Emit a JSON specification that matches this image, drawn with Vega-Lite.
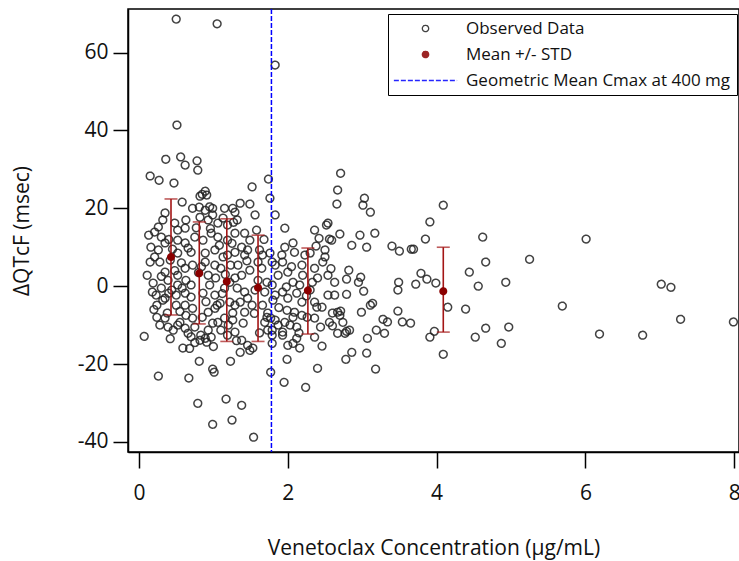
{
  "$schema": "https://vega.github.io/schema/vega-lite/v6.json",
  "autosize": "none",
  "width": 611,
  "height": 443,
  "padding": {"left": 128, "top": 9, "right": 0, "bottom": 109},
  "background": "white",
  "datasets": {
    "obs": [
      {"c":0.50,"q":68.6},{"c":1.05,"q":67.4},{"c":1.83,"q":56.8},{"c":0.51,"q":41.4},{"c":0.15,"q":28.3},{"c":0.27,"q":27.2},{"c":0.36,"q":32.6},{"c":0.47,"q":26.5},{"c":0.56,"q":33.2},{"c":0.62,"q":31.1},
      {"c":0.78,"q":32.2},{"c":0.79,"q":29.8},{"c":0.85,"q":23.6},{"c":0.89,"q":24.4},{"c":0.91,"q":23.4},{"c":0.82,"q":23.1},{"c":0.58,"q":21.6},{"c":0.72,"q":20.0},{"c":0.81,"q":20.3},{"c":0.99,"q":20.0},
      {"c":1.15,"q":20.0},{"c":1.26,"q":20.0},{"c":1.36,"q":21.3},{"c":1.49,"q":21.1},{"c":1.52,"q":25.5},{"c":1.56,"q":18.3},{"c":1.74,"q":27.5},{"c":1.76,"q":22.6},{"c":1.83,"q":18.3},{"c":1.96,"q":14.9},
      {"c":2.71,"q":29.0},{"c":2.67,"q":24.7},{"c":2.66,"q":21.1},{"c":2.70,"q":13.4},{"c":2.54,"q":16.2},{"c":2.56,"q":12.1},{"c":2.36,"q":14.4},{"c":2.42,"q":12.3},{"c":3.03,"q":22.6},{"c":3.01,"q":20.8},
      {"c":3.11,"q":19.0},{"c":2.86,"q":10.5},{"c":2.97,"q":13.1},{"c":3.06,"q":10.0},{"c":3.17,"q":13.6},{"c":3.40,"q":10.3},{"c":3.50,"q":9.0},{"c":3.66,"q":9.5},{"c":3.69,"q":9.5},{"c":3.85,"q":12.1},
      {"c":3.91,"q":16.5},{"c":4.09,"q":20.8},{"c":4.62,"q":12.6},{"c":4.66,"q":6.2},{"c":5.25,"q":6.9},{"c":4.44,"q":3.6},{"c":3.79,"q":3.3},{"c":3.87,"q":1.8},{"c":3.99,"q":0.8},{"c":3.72,"q":0.5},
      {"c":3.49,"q":1.0},{"c":3.48,"q":-1.0},{"c":2.82,"q":4.1},{"c":2.79,"q":1.8},{"c":2.98,"q":2.3},{"c":2.95,"q":1.0},{"c":3.02,"q":-1.3},{"c":2.79,"q":-2.1},{"c":4.56,"q":0.0},{"c":4.93,"q":1.0},
      {"c":4.15,"q":-5.4},{"c":4.39,"q":-5.9},{"c":3.14,"q":-4.4},{"c":3.11,"q":-4.9},{"c":2.99,"q":-6.7},{"c":2.71,"q":-6.4},{"c":3.48,"q":-6.4},{"c":3.28,"q":-8.5},{"c":3.34,"q":-9.2},{"c":3.30,"q":-12.1},
      {"c":3.19,"q":-11.3},{"c":3.54,"q":-9.2},{"c":3.65,"q":-9.5},{"c":2.77,"q":-12.1},{"c":2.79,"q":-11.6},{"c":3.07,"q":-13.4},{"c":3.91,"q":-13.1},{"c":3.97,"q":-11.6},{"c":4.09,"q":-17.5},{"c":2.86,"q":-17.0},
      {"c":2.78,"q":-18.8},{"c":3.06,"q":-17.2},{"c":3.18,"q":-21.3},{"c":4.52,"q":-13.1},{"c":4.66,"q":-10.8},{"c":4.87,"q":-14.7},{"c":4.97,"q":-10.5},{"c":6.01,"q":12.1},{"c":5.69,"q":-5.1},{"c":6.19,"q":-12.3},
      {"c":6.77,"q":-12.6},{"c":7.02,"q":0.5},{"c":7.15,"q":-0.3},{"c":7.28,"q":-8.5},{"c":7.99,"q":-9.2},{"c":2.60,"q":-6.9},{"c":2.67,"q":-6.7},
      {"c":0.07,"q":-12.9},{"c":0.26,"q":-23.1},{"c":0.59,"q":-15.9},{"c":0.81,"q":-19.3},{"c":0.67,"q":-23.6},{"c":0.99,"q":-21.3},{"c":1.01,"q":-22.1},{"c":0.79,"q":-30.1},{"c":1.17,"q":-29.0},{"c":1.38,"q":-30.6},
      {"c":0.99,"q":-35.5},{"c":1.25,"q":-34.4},{"c":1.54,"q":-38.8},{"c":1.77,"q":-22.1},{"c":1.95,"q":-24.7},{"c":2.24,"q":-26.0},{"c":2.40,"q":-21.1},{"c":1.99,"q":-18.8},{"c":2.07,"q":-14.7},{"c":2.16,"q":-15.9},
      {"c":2.46,"q":-15.4},{"c":2.36,"q":-13.1},{"c":1.23,"q":-19.3},{"c":1.38,"q":-13.9},{"c":1.46,"q":-15.2},{"c":1.49,"q":-16.5},{"c":1.36,"q":-17.0},{"c":1.79,"q":-12.6},{"c":1.79,"q":-14.7},{"c":2.12,"q":-13.4},
      {"c":2.00,"q":-15.2},{"c":2.67,"q":-12.1},{"c":2.36,"q":-8.2},{"c":1.66,"q":-4.9},{"c":1.73,"q":-6.9},{"c":1.69,"q":-9.3},{"c":1.73,"q":-11.3},{"c":1.87,"q":-10.0},{"c":1.93,"q":-11.8},{"c":1.96,"q":-9.3},
      {"c":2.03,"q":-10.0},{"c":2.09,"q":-6.7},{"c":2.19,"q":-7.5},{"c":2.56,"q":-9.3},{"c":2.60,"q":-10.2},
      {"c":1.29,"q":19.0},{"c":1.32,"q":17.0},{"c":2.52,"q":15.7},{"c":2.59,"q":11.8},{"c":2.38,"q":10.3},{"c":2.50,"q":9.3},{"c":2.07,"q":11.1},{"c":1.96,"q":10.0},{"c":1.92,"q":8.0},{"c":2.09,"q":8.7},
      {"c":2.23,"q":8.0},{"c":1.38,"q":10.0},{"c":1.46,"q":9.3},{"c":1.42,"q":8.0},{"c":1.62,"q":9.3},{"c":1.66,"q":8.0},{"c":1.76,"q":8.5},
      {"c":0.35,"q":18.8},{"c":0.32,"q":17.0},{"c":0.26,"q":15.2},{"c":0.21,"q":13.9},{"c":0.13,"q":13.1},{"c":0.30,"q":12.6},{"c":0.48,"q":16.2},{"c":0.52,"q":14.4},{"c":0.62,"q":14.9},{"c":0.63,"q":17.0},
      {"c":0.82,"q":17.7},{"c":0.93,"q":17.0},{"c":0.99,"q":18.3},{"c":1.06,"q":16.2},{"c":1.13,"q":17.5},{"c":1.19,"q":15.7},{"c":1.27,"q":16.4},{"c":0.16,"q":10.0},{"c":0.26,"q":9.3},{"c":0.35,"q":11.1},
      {"c":0.52,"q":11.8},{"c":0.62,"q":11.1},{"c":0.75,"q":12.6},{"c":0.86,"q":11.8},{"c":0.97,"q":13.6},{"c":1.06,"q":12.6},{"c":1.19,"q":11.8},{"c":1.29,"q":13.6},{"c":0.21,"q":7.5},{"c":0.52,"q":8.5},
      {"c":0.70,"q":8.7},{"c":0.89,"q":8.5},{"c":1.02,"q":9.3},{"c":1.19,"q":8.0},{"c":1.29,"q":8.7},{"c":0.89,"q":19.5},{"c":0.95,"q":20.4},
      {"c":0.35,"q":3.6},{"c":0.39,"q":1.5},{"c":0.52,"q":2.8},{"c":0.52,"q":0.3},{"c":0.62,"q":4.6},{"c":0.63,"q":1.5},{"c":0.72,"q":5.4},{"c":0.70,"q":0.3},{"c":0.89,"q":6.2},{"c":0.93,"q":2.8},
      {"c":0.95,"q":0.3},{"c":1.02,"q":5.4},{"c":1.03,"q":2.1},{"c":1.10,"q":4.6},{"c":1.15,"q":-0.5},{"c":1.23,"q":5.4},{"c":1.29,"q":2.1},{"c":0.30,"q":-0.5},{"c":0.23,"q":-2.3},{"c":0.35,"q":-3.1},
      {"c":0.50,"q":-2.3},{"c":0.62,"q":-1.8},{"c":0.70,"q":-2.8},{"c":0.86,"q":-1.8},{"c":1.02,"q":-2.3},{"c":1.09,"q":-4.4},{"c":1.22,"q":-4.1},{"c":1.29,"q":-4.9},{"c":0.50,"q":-4.9},{"c":0.62,"q":-4.9},
      {"c":0.72,"q":-5.7},{"c":0.63,"q":-7.5},{"c":0.72,"q":-8.2},{"c":0.93,"q":-6.7},{"c":1.02,"q":-5.7},{"c":1.06,"q":-9.3},{"c":1.15,"q":-8.2},{"c":1.26,"q":-8.7},{"c":0.35,"q":-8.2},{"c":0.39,"q":-10.5},
      {"c":0.52,"q":-10.0},{"c":0.62,"q":-10.8},{"c":0.75,"q":-10.5},{"c":0.66,"q":-12.1},{"c":0.83,"q":-12.6},{"c":0.93,"q":-11.3},{"c":0.89,"q":-13.4},{"c":0.97,"q":-13.1},{"c":1.10,"q":-11.3},{"c":1.19,"q":-12.6},
      {"c":1.29,"q":-11.8},
      {"c":1.33,"q":5.4},{"c":1.38,"q":2.8},{"c":1.32,"q":-0.5},{"c":1.42,"q":-1.5},{"c":1.36,"q":-4.1},{"c":1.46,"q":-3.1},{"c":1.52,"q":-4.9},{"c":1.42,"q":-6.7},{"c":1.65,"q":4.6},{"c":1.72,"q":1.0},
      {"c":1.83,"q":5.4},{"c":1.87,"q":2.8},{"c":1.93,"q":6.2},{"c":2.00,"q":3.6},{"c":2.07,"q":1.0},{"c":2.19,"q":5.4},{"c":2.20,"q":2.8},{"c":2.36,"q":4.6},{"c":2.40,"q":2.1},{"c":2.47,"q":6.2},
      {"c":2.54,"q":2.8},{"c":2.63,"q":1.0},{"c":1.93,"q":-1.5},{"c":2.00,"q":-3.1},{"c":2.12,"q":-1.8},{"c":2.19,"q":-4.1},{"c":2.36,"q":-4.1},{"c":2.46,"q":-5.4},{"c":2.54,"q":-2.3},{"c":2.63,"q":-2.3},
      {"c":0.32,"q":-3.6},{"c":0.24,"q":-4.9},{"c":0.38,"q":-6.9},{"c":0.55,"q":-9.3},{"c":0.46,"q":-11.3},{"c":0.82,"q":-13.9},{"c":0.91,"q":-14.4},{"c":0.99,"q":-9.5},{"c":1.05,"q":-4.9},{"c":1.26,"q":-6.9},
      {"c":1.53,"q":-15.9},{"c":1.72,"q":-8.0},{"c":1.83,"q":-8.7},{"c":1.93,"q":-12.6},{"c":1.99,"q":-6.2},{"c":2.07,"q":-8.0},{"c":2.12,"q":-10.5},{"c":2.26,"q":-8.0},{"c":2.39,"q":-5.4},{"c":2.70,"q":-7.5},
      {"c":2.74,"q":-9.3},{"c":2.83,"q":-11.3},{"c":0.15,"q":6.2},{"c":0.11,"q":2.8},{"c":0.19,"q":0.8},{"c":0.28,"q":6.2},{"c":0.42,"q":6.7},{"c":0.44,"q":-1.0},{"c":1.42,"q":13.6},{"c":1.58,"q":14.4},
      {"c":1.49,"q":11.8},{"c":2.30,"q":8.5},{"c":2.50,"q":7.5},{"c":1.60,"q":6.2},{"c":1.49,"q":4.1},{"c":1.60,"q":1.5},{"c":2.16,"q":0.3},{"c":2.30,"q":-1.0},{"c":1.83,"q":-2.3},{"c":1.69,"q":-1.5},
      {"c":1.56,"q":-1.0},{"c":1.79,"q":6.2},{"c":1.79,"q":0.3},{"c":1.80,"q":-3.6},{"c":1.77,"q":-8.2},{"c":1.79,"q":-11.3},
      {"c":0.24,"q":-8.0},{"c":0.28,"q":-10.0},{"c":0.20,"q":-6.0},{"c":0.42,"q":-13.5},{"c":0.75,"q":-14.5},{"c":0.70,"q":-13.0},{"c":0.45,"q":9.5},{"c":0.57,"q":6.0},{"c":0.80,"q":3.5},{"c":1.13,"q":7.5},
      {"c":1.22,"q":1.0},{"c":0.85,"q":-8.0},{"c":1.12,"q":-1.9},
      {"c":0.40,"q":12.0},{"c":0.48,"q":4.0},{"c":0.58,"q":-0.5},{"c":0.66,"q":9.8},{"c":0.77,"q":15.0},{"c":0.84,"q":5.0},{"c":0.90,"q":-4.0},{"c":0.96,"q":14.8},{"c":1.00,"q":-15.5},{"c":1.08,"q":10.5},
      {"c":1.16,"q":3.0},{"c":1.20,"q":-10.0},{"c":1.25,"q":11.0},{"c":1.31,"q":-14.0},{"c":1.40,"q":-9.5},{"c":1.45,"q":6.5},{"c":1.55,"q":-7.0},{"c":1.62,"q":-12.0},{"c":1.68,"q":12.0},{"c":1.88,"q":-5.5},
      {"c":1.98,"q":-0.2},{"c":2.05,"q":5.0},{"c":2.15,"q":-12.0},{"c":2.25,"q":-2.5},{"c":2.33,"q":1.0},{"c":2.44,"q":-10.5},{"c":2.58,"q":4.5},{"c":0.55,"q":-6.5},{"c":0.68,"q":-16.0},{"c":0.30,"q":2.5},
      {"c":0.18,"q":-1.5},{"c":0.40,"q":-1.8}
    ],
    "stats": [
      {"c":0.43,"m":7.5,"lo":-7.4,"hi":22.4},
      {"c":0.81,"m":3.3,"lo":-9.7,"hi":16.5},
      {"c":1.18,"m":1.2,"lo":-14.2,"hi":17.3},
      {"c":1.60,"m":-0.4,"lo":-14.2,"hi":13.1},
      {"c":2.27,"m":-1.1,"lo":-12.3,"hi":9.8},
      {"c":4.09,"m":-1.3,"lo":-11.8,"hi":10.0}
    ],
    "cmax": [{"cmax": 1.78}]
  },
  "config": {
    "view": {"stroke": "#000", "strokeWidth": 1.5},
    "font": "Open Sans",
    "axis": {"domainColor": "#000", "domainWidth": 1.5, "tickColor": "#000", "tickWidth": 1.5, "labelColor": "#111", "titleColor": "#111", "grid": false, "labelFont": "Open Sans", "titleFont": "Open Sans", "titleFontWeight": "normal"},
    "legend": {"orient": "none", "legendX": 260, "legendY": 5, "fillColor": "white", "strokeColor": "black", "padding": 6, "labelFont": "Open Sans", "labelFontSize": 17, "labelColor": "#111", "symbolSize": 40, "symbolStrokeWidth": 1.3, "rowPadding": 8, "labelOffset": 32, "symbolOffset": 23, "labelLimit": 400}
  },
  "layer": [
    {
      "mark": {"type": "rule", "color": "#8c8c8c", "strokeWidth": 1},
      "encoding": {"y": {"datum": 0, "type": "quantitative"}}
    },
    {
      "data": {"name": "obs"},
      "mark": {"type": "point", "filled": false, "size": 60, "strokeWidth": 1.5, "opacity": 0.85},
      "encoding": {
        "x": {"field": "c", "type": "quantitative", "scale": {"domain": [-0.148, 8.065], "nice": false, "zero": false},
              "axis": {"values": [0, 2, 4, 6, 8], "format": "d", "tickSize": 16, "labelFontSize": 21, "labelPadding": 14, "title": "Venetoclax Concentration (μg/mL)", "titleFontSize": 21, "titlePadding": 34}},
        "y": {"field": "q", "type": "quantitative", "scale": {"domain": [-42.6, 71.2], "nice": false, "zero": false},
              "axis": {"values": [-40, -20, 0, 20, 40, 60], "labelExpr": "'' + datum.value", "tickSize": 15, "labelFontSize": 21, "labelPadding": 5, "title": "ΔQTcF (msec)", "titleFontSize": 21, "titlePadding": 45}},
        "shape": {"datum": "Observed Data", "scale": {"domain": ["Observed Data", "Mean +/- STD", "Geometric Mean Cmax at 400 mg"], "range": ["circle", "circle", "M-10,0H10"]}, "legend": {"title": null}},
        "stroke": {"datum": "Observed Data", "scale": {"domain": ["Observed Data", "Mean +/- STD", "Geometric Mean Cmax at 400 mg"], "range": ["#222222", "#8b0000", "#0000ff"]}, "legend": {"title": null}},
        "fill": {"datum": "Observed Data", "scale": {"domain": ["Observed Data", "Mean +/- STD", "Geometric Mean Cmax at 400 mg"], "range": ["transparent", "#8b0000", "transparent"]}, "legend": {"title": null}},
        "strokeDash": {"datum": "Observed Data", "scale": {"domain": ["Observed Data", "Mean +/- STD", "Geometric Mean Cmax at 400 mg"], "range": [[1, 0], [1, 0], [5, 2]]}, "legend": {"title": null}}
      }
    },
    {
      "data": {"name": "cmax"},
      "mark": {"type": "rule", "strokeWidth": 1.5, "color": "#0000ff", "strokeDash": [5, 2]},
      "encoding": {
        "x": {"field": "cmax", "type": "quantitative"}
      }
    },
    {
      "data": {"name": "stats"},
      "mark": {"type": "rule", "color": "#a31515", "strokeWidth": 1.6},
      "encoding": {
        "x": {"field": "c", "type": "quantitative"},
        "y": {"field": "lo", "type": "quantitative"},
        "y2": {"field": "hi"}
      }
    },
    {
      "data": {"name": "stats"},
      "mark": {"type": "tick", "orient": "horizontal", "color": "#a31515", "size": 13, "thickness": 1.6},
      "encoding": {
        "x": {"field": "c", "type": "quantitative"},
        "y": {"field": "lo", "type": "quantitative"}
      }
    },
    {
      "data": {"name": "stats"},
      "mark": {"type": "tick", "orient": "horizontal", "color": "#a31515", "size": 13, "thickness": 1.6},
      "encoding": {
        "x": {"field": "c", "type": "quantitative"},
        "y": {"field": "hi", "type": "quantitative"}
      }
    },
    {
      "data": {"name": "stats"},
      "mark": {"type": "point", "filled": true, "size": 36, "opacity": 1},
      "encoding": {
        "x": {"field": "c", "type": "quantitative"},
        "y": {"field": "m", "type": "quantitative"},
        "shape": {"datum": "Mean +/- STD"},
        "stroke": {"datum": "Mean +/- STD"},
        "fill": {"datum": "Mean +/- STD"},
        "strokeDash": {"datum": "Mean +/- STD"}
      }
    }
  ]
}
